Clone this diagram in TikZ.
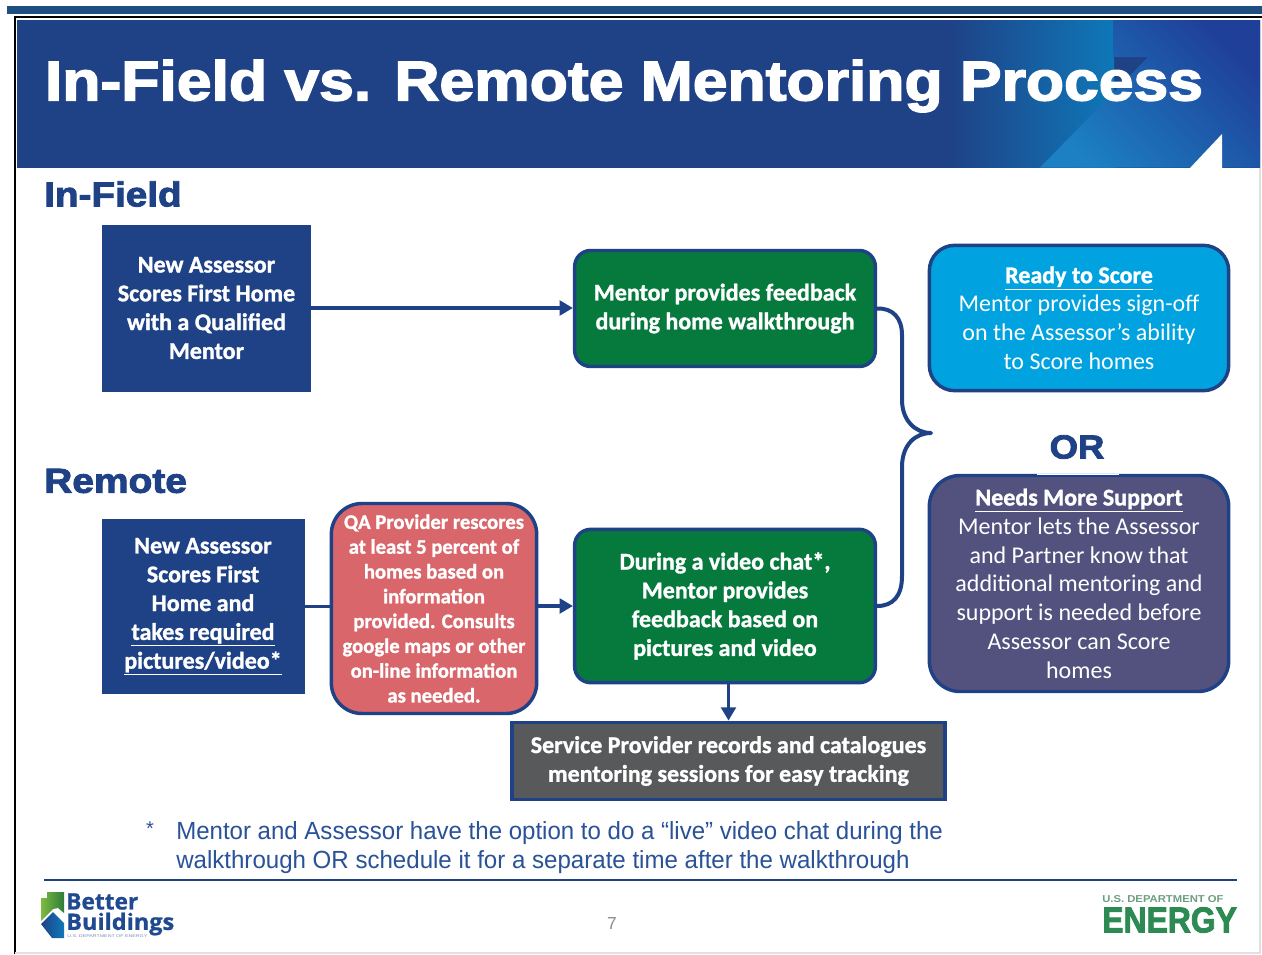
\documentclass[tikz,border=0pt]{standalone}
\usepackage{fontspec}
\usepackage{graphicx}
\setmainfont{Carlito}[BoldFeatures={FakeBold=1.2}]
\newfontfamily\arialf{Liberation Sans}
\newfontfamily\heavyf{Liberation Sans}[BoldFeatures={FakeBold=2.5}]
\newfontfamily\logof{Open Sans}[BoldFeatures={FakeBold=0.8}]
\usetikzlibrary{arrows.meta,calc,shapes.geometric}
\definecolor{navy}{HTML}{1F4287}
\definecolor{linkblue}{HTML}{1F4A91}
\definecolor{mgreen}{HTML}{067A3D}
\definecolor{skyb}{HTML}{00A3E0}
\definecolor{plum}{HTML}{53527F}
\definecolor{salmon}{HTML}{D9666B}
\definecolor{slateg}{HTML}{58595B}
\definecolor{topbar}{HTML}{1F4E80}
\definecolor{bandb}{HTML}{0E78B8}
\definecolor{bandl}{HTML}{1C80C2}
\definecolor{bandm}{HTML}{1768AE}
\definecolor{bandd}{HTML}{1F3F98}
\definecolor{doegreen}{HTML}{2C8A52}
\definecolor{doegrey}{HTML}{6E9E80}
\definecolor{footb}{HTML}{2A5298}
\definecolor{leafl}{HTML}{7DBB42}
\definecolor{leafd}{HTML}{2E7D3A}
\tikzset{
  box/.style={draw=#1,line width=0.2pt,fill=#1,text=white,align=center,inner sep=0pt,font=\bfseries\fontsize{18}{21.6}\selectfont},
  rbox/.style={draw=navy,line width=2.6pt,text=white,align=center,inner sep=0pt,font=\bfseries\fontsize{18}{21.6}\selectfont},
  conn/.style={draw=navy,line width=2.8pt},
  arr/.style={conn,-{Triangle[length=10pt,width=11pt]}},
  heading/.style={text=navy,inner sep=0pt,font=\heavyf\bfseries\fontsize{26}{30}\selectfont},
  foot/.style={text=footb,inner sep=0pt,anchor=west,font=\arialf\fontsize{18.6}{22}\selectfont},
}
\begin{document}
\begin{tikzpicture}[x=0.75pt,y=-0.75pt]
\useasboundingbox (0,0) rectangle (1262,954);
\fill[white] (0,0) rectangle (1262,954);
% page frame
\fill[topbar] (7,6) rectangle (1262,14);
\draw[black,line width=1.6pt] (15,954) -- (15,17) -- (1262,17);
\draw[black!12,line width=0.8pt] (15,953) -- (1260,953) -- (1260,20);
% banner
\fill[navy] (17,20) rectangle (1260,167.5);
\shade[left color=navy,right color=bandb] (950,20) rectangle (1114,167.5);
\shade[bottom color=bandl,middle color=bandm,top color=bandd,shading angle=-45] (1113,20) -- (1260,20) -- (1260,167.5) -- (1040,167.5) -- (1148,57) -- (1113,57) -- cycle;
\fill[white] (1190,168) -- (1222,134) -- (1222,168) -- cycle;
\node[inner sep=0pt,text=white] (title) at (624,86) {\resizebox{868.5pt}{\height}{\heavyf\bfseries\fontsize{42}{46}\selectfont In-Field vs. Remote Mentoring Process}};
% headings
\node[heading,anchor=west] (h1) at (44,194) {\resizebox{103pt}{\height}{In-Field}};
\node[heading,anchor=west] (h2) at (44,481) {\resizebox{107pt}{\height}{Remote}};
% boxes
\node[box=navy,minimum width=156pt,minimum height=124pt] (af) at (206.5,308) {New Assessor\\Scores First Home\\with a Qualified\\Mentor};
\node[rbox,fill=mgreen,rounded corners=12pt,minimum width=225.5pt,minimum height=87pt] (m1) at (725,308.5) {Mentor provides feedback\\during home walkthrough};
\node[rbox,fill=skyb,rounded corners=19pt,minimum width=224.5pt,minimum height=109pt,font=\fontsize{18}{21.6}\selectfont] (ready) at (1079,318) {\textbf{\underline{Ready to Score}}\\Mentor provides sign-off\\on the Assessor’s ability\\to Score homes};
\node[rbox,fill=plum,rounded corners=23pt,minimum width=224.5pt,minimum height=162pt,font=\fontsize{18}{21.6}\selectfont] (needs) at (1079,583.5) {\textbf{\underline{Needs More Support}}\\Mentor lets the Assessor\\and Partner know that\\additional mentoring and\\support is needed before\\Assessor can Score\\homes};
\node[text=navy,inner sep=0pt] (or) at (1077,447) {\resizebox{41pt}{\height}{\heavyf\bfseries\fontsize{25}{28}\selectfont OR}};
\draw[white,line width=0.8pt] (1037,474.5) -- (1119,474.5);
\node[box=navy,minimum width=151pt,minimum height=130.5pt] (ar) at (203,606.5) {New Assessor\\Scores First\\Home and\\\underline{takes required}\\\underline{pictures/video*}};
\node[rbox,fill=salmon,rounded corners=23pt,minimum width=154pt,minimum height=157.5pt,font=\bfseries\fontsize{15.5}{18.6}\selectfont] (qa) at (434,608.5) {QA Provider rescores\\at least 5 percent of\\homes based on\\information\\provided. Consults\\google maps or other\\on-line information\\as needed.};
\node[rbox,fill=mgreen,rounded corners=12pt,minimum width=225.5pt,minimum height=115pt] (m2) at (725,606) {During a video chat*,\\Mentor provides\\feedback based on\\pictures and video};
\node[rbox,fill=slateg,minimum width=325pt,minimum height=58pt] (svc) at (728.5,761) {Service Provider records and catalogues\\mentoring sessions for easy tracking};
% connectors
\draw[arr] (af.east) -- (af.east -| m1.west);
\draw[conn] (ar.east) -- (ar.east -| qa.west);
\draw[arr] (qa.east |- m2.west) -- (m2.west);
\draw[arr] (svc.north |- m2.south) -- (svc.north);
\coordinate (tip) at (931,433);
\draw[conn,line width=3pt,line cap=round,line join=round] (m1.east) .. controls (893,308) and (902,318) .. (902,335) -- (902,400) .. controls (902,420) and (915,433) .. (tip) .. controls (915,433) and (902,445) .. (902,467) -- (902,576) .. controls (902,596) and (893,606) .. (m2.east);
% footnote
\node[inner sep=0pt,text=footb,font=\arialf\fontsize{15}{18}\selectfont] (st) at (150,829) {*};
\node[foot] (f1) at (176,833) {\resizebox{575pt}{\height}{Mentor and Assessor have the option to do a “live” video chat during the}};
\node[foot] (f2) at (176,862) {\resizebox{550pt}{\height}{walkthrough OR schedule it for a separate time after the walkthrough}};
\coordinate (ruleL) at (44,880);
\coordinate (ruleR) at (1237,880);
\draw[navy,line width=1pt] (ruleL) -- (ruleR);
\node[inner sep=0pt,text=black!45,font=\arialf\fontsize{13}{15}\selectfont] (pg) at (612,924) {7};
% Better Buildings logo
\shade[left color=leafl,right color=leafd] (47,892) -- (64,892) -- (64,913) -- (58,908) -- (53,909) -- (41,921) -- (41,898) -- (47,898) -- cycle;
\shade[left color=navy,right color=bandb] (41,924) -- (53,912) -- (64,923) -- (64,938) -- (52,938) -- cycle;
\node[inner sep=0pt,anchor=west,text=linkblue,font=\logof\bfseries\fontsize{17}{17}\selectfont] (bb1) at (66,901.5) {\resizebox{54pt}{\height}{Better}};
\node[inner sep=0pt,anchor=west,text=linkblue,font=\logof\bfseries\fontsize{17}{17}\selectfont] (bb2) at (66,924) {\resizebox{81pt}{\height}{Buildings}};
\node[inner sep=0pt,anchor=west,text=navy!60,font=\arialf\fontsize{3}{4}\selectfont] (bb3) at (67,936) {\resizebox{60pt}{\height}{U.S. DEPARTMENT OF ENERGY}};
% DOE logo
\node[inner sep=0pt,anchor=west,text=doegrey,font=\arialf\bfseries\fontsize{7.5}{9}\selectfont] (doe1) at (1102,899) {\resizebox{91pt}{\height}{U.S. DEPARTMENT OF}};
\node[inner sep=0pt,anchor=west,text=doegreen,font=\heavyf\bfseries\fontsize{27}{30}\selectfont] (doe2) at (1102,920) {\resizebox{101pt}{\height}{ENERGY}};
\end{tikzpicture}
\end{document}
